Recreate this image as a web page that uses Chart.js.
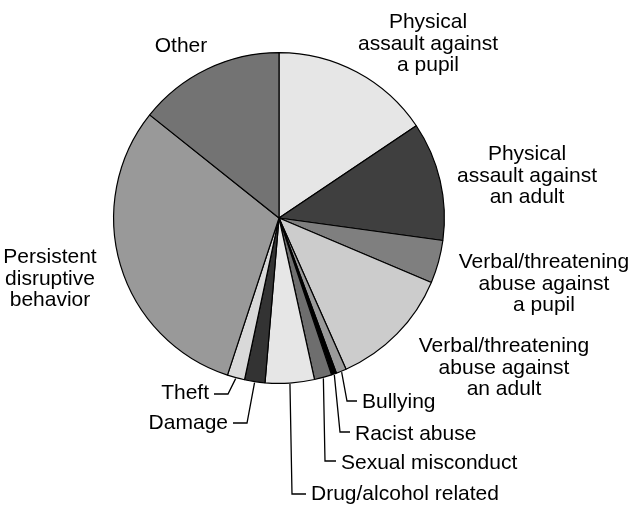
<!DOCTYPE html>
<html>
<head>
<meta charset="utf-8">
<script src="https://cdn.jsdelivr.net/npm/chart.js@4.4.1/dist/chart.umd.min.js"></script>
<style>
  body { margin: 0; background: #fff; }
  #pie { display: block; }
</style>
</head>
<body>
<canvas id="pie" width="634" height="506"></canvas>
<script>
// categories, clockwise from 12 o'clock
const categories = [
  "Physical assault against a pupil",
  "Physical assault against an adult",
  "Verbal/threatening abuse against a pupil",
  "Verbal/threatening abuse against an adult",
  "Bullying",
  "Racist abuse",
  "Sexual misconduct",
  "Drug/alcohol related",
  "Damage",
  "Theft",
  "Persistent disruptive behavior",
  "Other"
];
// share of exclusions (%)
const shares = [15.6, 11.6, 4.2, 12.0, 1.0, 0.5, 1.7, 4.8, 2.0, 1.7, 30.7, 14.3];
const sliceColors = ["#e6e6e6", "#3f3f3f", "#7f7f7f", "#cccccc", "#9a9a9a", "#000000",
                     "#6e6e6e", "#e6e6e6", "#333333", "#d9d9d9", "#999999", "#737373"];

// how each label is broken into lines
const labelLines = [
  ["Physical", "assault against", "a pupil"],
  ["Physical", "assault against", "an adult"],
  ["Verbal/threatening", "abuse against", "a pupil"],
  ["Verbal/threatening", "abuse against", "an adult"],
  ["Bullying"],
  ["Racist abuse"],
  ["Sexual misconduct"],
  ["Drug/alcohol related"],
  ["Damage"],
  ["Theft"],
  ["Persistent", "disruptive", "behavior"],
  ["Other"]
];

// label layout: text anchor (x, first baseline), align, optional leader elbow
const labelPos = [
  { x: 428, y: 28, align: "center" },
  { x: 527, y: 160, align: "center" },
  { x: 544, y: 268, align: "center" },
  { x: 504, y: 352, align: "center" },
  { x: 362, y: 408, align: "left", elbow: [347, 401], end: 357 },
  { x: 355, y: 440, align: "left", elbow: [340, 432], end: 350 },
  { x: 341, y: 469, align: "left", elbow: [325, 461], end: 336 },
  { x: 311, y: 500, align: "left", elbow: [292, 494], end: 306 },
  { x: 228, y: 429, align: "right", elbow: [247, 423], end: 233 },
  { x: 209, y: 399, align: "right", elbow: [228, 394], end: 214 },
  { x: 50, y: 263, align: "center" },
  { x: 181, y: 52, align: "center" }
];

const labelPlugin = {
  id: "sliceLabels",
  afterDraw(chart) {
    const ctx = chart.ctx;
    const arcs = chart.getDatasetMeta(0).data;
    ctx.save();
    ctx.fillStyle = "#000";
    ctx.strokeStyle = "#000";
    ctx.lineWidth = 1.3;
    ctx.font = "21px 'Liberation Sans', Arial, sans-serif";
    ctx.textBaseline = "alphabetic";
    labelPos.forEach(function (p, i) {
      ctx.textAlign = p.align;
      labelLines[i].forEach(function (line, j) {
        ctx.fillText(line, p.x, p.y + j * 21.5);
      });
      if (p.elbow) {
        const arc = arcs[i];
        const mid = (arc.startAngle + arc.endAngle) / 2;
        const ax = arc.x + Math.cos(mid) * (arc.outerRadius + 1);
        const ay = arc.y + Math.sin(mid) * (arc.outerRadius + 1);
        ctx.beginPath();
        ctx.moveTo(ax, ay);
        ctx.lineTo(p.elbow[0], p.elbow[1]);
        ctx.lineTo(p.end, p.elbow[1]);
        ctx.stroke();
      }
    });
    ctx.restore();
  }
};

new Chart(document.getElementById("pie"), {
  type: "pie",
  data: {
    labels: categories,
    datasets: [{
      data: shares,
      backgroundColor: sliceColors,
      borderColor: "#000",
      borderWidth: 1.2
    }]
  },
  options: {
    responsive: false,
    animation: false,
    layout: { padding: { left: 113, top: 52, right: 189, bottom: 122 } },
    plugins: {
      legend: { display: false },
      tooltip: { enabled: false }
    }
  },
  plugins: [labelPlugin]
});
</script>
</body>
</html>
